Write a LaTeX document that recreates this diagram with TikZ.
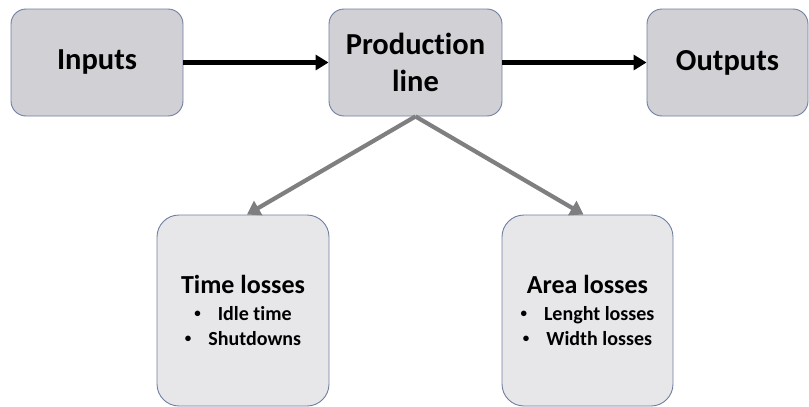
\documentclass[tikz,border=0pt]{standalone}
\usepackage{fontspec}
\setmainfont{Carlito}[Ligatures=NoCommon]
\usetikzlibrary{arrows.meta}
\definecolor{edgeblue}{HTML}{6E7FA2}
\definecolor{topfill}{HTML}{D1D0D5}
\definecolor{lowfill}{HTML}{E7E6E9}
\definecolor{branchgray}{HTML}{7F7E80}
\tikzset{
  topbox/.style={draw=edgeblue, line width=0.9pt, fill=topfill, rounded corners=15pt,
    minimum height=107pt, inner sep=0pt, align=center,
    font=\fontsize{30.5}{37}\selectfont\bfseries},
  lowbox/.style={draw=edgeblue, line width=0.9pt, fill=lowfill, rounded corners=22pt,
    minimum height=191pt, minimum width=172pt, inner sep=0pt, align=center,
    font=\fontsize{20}{25.5}\selectfont\bfseries},
  flow/.style={line width=4.2pt, -{Triangle[length=13pt,width=15pt]}},
  branch/.style={line width=4.2pt, draw=branchgray,
    -{Triangle[length=13pt,width=16pt,fill=branchgray]}},
}
% title line and centred bullet items of the lower boxes
\newcommand{\ttl}[1]{{\fontsize{26}{30}\selectfont #1}}
\newcommand{\itm}[1]{\raisebox{3pt}{\fontsize{13}{13}\selectfont\textbullet}\hspace{17pt}#1}
\begin{document}
\begin{tikzpicture}[x=1pt,y=-1pt]
  \useasboundingbox (0,0) rectangle (809,407);
  \node[topbox, minimum width=172pt] (inputs) at (97,62.5) {Inputs};
  \node[topbox, minimum width=173pt] (prod) at (415.5,62.5) {Production\\line};
  \node[topbox, minimum width=161pt] (outputs) at (727.5,62.5) {Outputs};
  \node[lowbox] (time) at (243,310.5)
    {\ttl{Time losses}\\[1pt] \itm{Idle time}\\ \itm{Shutdowns}};
  \node[lowbox, minimum width=171pt] (area) at (587.5,310.5)
    {\ttl{Area losses}\\[1pt] \itm{Lenght losses}\\ \itm{Width losses}};
  \draw[flow] (inputs) -- (prod);
  \draw[flow] (prod) -- (outputs);
  \draw[branch] (prod.south) -- ([xshift=4pt]time.north);
  \draw[branch] (prod.south) -- ([xshift=-4pt]area.north);
\end{tikzpicture}
\end{document}
